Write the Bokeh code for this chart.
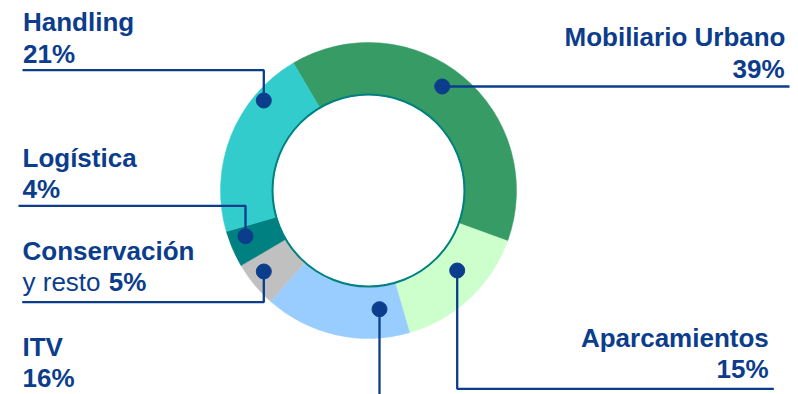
import numpy as np
from bokeh.plotting import figure
from bokeh.models import Range1d
from bokeh.core.properties import value
from bokeh.embed import file_html
from bokeh.resources import INLINE

# ---- data ----
categories = ["Mobiliario Urbano", "Aparcamientos", "ITV", "Conservación y resto", "Logística", "Handling"]
shares = [39, 15, 16, 5, 4, 21]
colors = ["#379b66", "#ccffcc", "#99ccff", "#c0c0c0", "#008080", "#33cccc"]

# ---- layout ----
W, H = 798, 394
CX, CY = 368, 204
R_OUT, R_IN = 148, 96
START_FROM_TOP = -30.5  # degrees clockwise from 12 o'clock
NAVY = "#0b3d8c"
FONT = value("Liberation Sans")
FS = "26px"
TDY = 8.5  # baseline correction for text rendering

p = figure(width=W, height=H, x_range=Range1d(0, W), y_range=Range1d(0, H),
           output_backend="svg", toolbar_location=None, min_border=0)
p.axis.visible = False
p.grid.visible = False
p.outline_line_color = None
p.background_fill_color = "white"
p.border_fill_color = "white"

# wedges
fr = np.array(shares, dtype=float) / sum(shares)
cum = np.concatenate([[0], np.cumsum(fr)]) * 360.0 + START_FROM_TOP
start = np.radians(90 - cum[:-1])
end = np.radians(90 - cum[1:])
p.annular_wedge(x=[CX] * len(shares), y=[CY] * len(shares), inner_radius=R_IN, outer_radius=R_OUT,
                start_angle=start, end_angle=end, direction="clock",
                fill_color=colors, line_color=colors, line_width=0.5)
# inner rim
p.circle(x=[CX], y=[CY], radius=R_IN, fill_color=None, line_color="#008080", line_width=2)

# leader lines: dot first, then path points
leaders = {
    "Mobiliario Urbano": [(441.7, 308), (789, 308)],
    "Aparcamientos": [(456.7, 124), (456.7, 5.7), (773.3, 5.7)],
    "ITV": [(379, 85.3), (379, -5)],
    "Conservación y resto": [(263.3, 123), (263.3, 92.3), (21.7, 92.3)],
    "Logística": [(245, 158.3), (245, 188.7), (18, 188.7)],
    "Handling": [(263.3, 294), (263.3, 324.3), (22, 324.3)],
}
for c in categories:
    pts = leaders[c]
    p.line(x=[q[0] for q in pts], y=[q[1] for q in pts], line_color=NAVY, line_width=2.3)
    p.circle(x=[pts[0][0]], y=[pts[0][1]], radius=7.5, fill_color=NAVY, line_color=NAVY)

# labels
pct = {c: f"{s}%" for c, s in zip(categories, shares)}
left_labels = [
    ("Handling", 22.5, 364, "bold"), (pct["Handling"], 22.5, 332.3, "bold"),
    ("Logística", 22, 228.3, "bold"), (pct["Logística"], 22, 197, "bold"),
    ("Conservación", 22, 135, "bold"), ("y resto", 22, 104, "normal"),
    (pct["Conservación y resto"], 108.3, 104, "bold"),
    ("ITV", 22, 39, "bold"), (pct["ITV"], 22, 8, "bold"),
]
right_labels = [
    ("Mobiliario Urbano", 785, 349), (pct["Mobiliario Urbano"], 784, 316.7),
    ("Aparcamientos", 768.3, 48), (pct["Aparcamientos"], 768, 16.7),
]
for t, x, y, st in left_labels:
    p.text(x=[x], y=[y + TDY], text=[t], text_font=FONT, text_font_size=FS, text_font_style=st,
           text_color=NAVY, text_align="left", text_baseline="alphabetic")
for t, x, y in right_labels:
    p.text(x=[x], y=[y + TDY], text=[t], text_font=FONT, text_font_size=FS, text_font_style="bold",
           text_color=NAVY, text_align="right", text_baseline="alphabetic")

open("out.html", "w").write(file_html(p, INLINE))
